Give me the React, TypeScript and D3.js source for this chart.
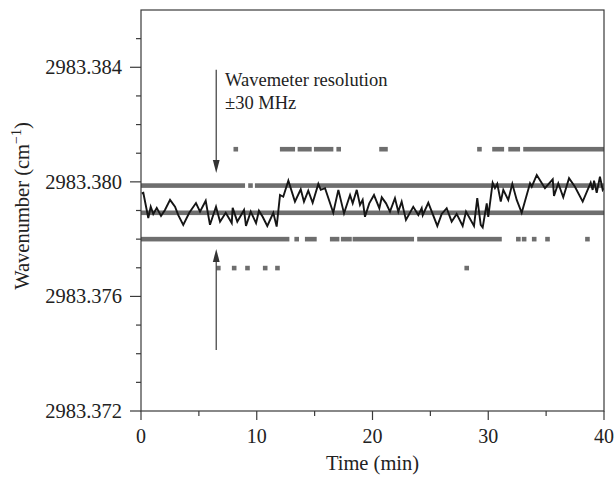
import React from 'react';
import * as d3 from 'd3';

// ---- data ----
const lineTime = [0.06,0.20,0.63,0.84,1.06,1.36,1.73,2.07,2.51,2.94,3.22,3.65,4.17,4.75,5.10,5.59,5.96,6.48,6.83,7.32,7.84,7.92,8.32,8.90,9.07,9.48,9.94,10.19,10.51,10.91,11.43,11.72,12.01,12.29,12.73,13.30,13.80,14.08,14.45,14.83,15.32,15.53,15.90,16.61,17.05,17.54,18.06,18.29,18.64,18.92,19.15,19.35,19.72,20.13,20.36,20.59,20.80,21.17,21.51,21.94,22.23,22.52,22.89,23.52,23.96,24.25,24.34,24.82,25.60,25.98,26.41,26.84,27.27,27.79,28.08,28.77,29.05,29.35,29.52,29.87,30.00,30.38,30.58,30.78,31.08,31.30,31.73,32.08,32.46,32.89,33.61,33.76,34.19,34.90,35.57,35.68,36.05,36.48,36.98,37.49,38.16,38.85,39.02,39.14,39.37,39.65,39.89,40.0];
const lineValue = [2983.37960,2983.37962,2983.37874,2983.37913,2983.37888,2983.37909,2983.37881,2983.37902,2983.37937,2983.37913,2983.37884,2983.37850,2983.37892,2983.37926,2983.37896,2983.37934,2983.37850,2983.37913,2983.37861,2983.37892,2983.37856,2983.37909,2983.37861,2983.37902,2983.37846,2983.37896,2983.37856,2983.37899,2983.37878,2983.37846,2983.37892,2983.37844,2983.37954,2983.37948,2983.38004,2983.37931,2983.37974,2983.37931,2983.37969,2983.37927,2983.37993,2983.37972,2983.37978,2983.37892,2983.37972,2983.37890,2983.37954,2983.37925,2983.37972,2983.37919,2983.37937,2983.37878,2983.37925,2983.37954,2983.37931,2983.37908,2983.37946,2983.37925,2983.37896,2983.37943,2983.37896,2983.37931,2983.37867,2983.37913,2983.37884,2983.37908,2983.37884,2983.37927,2983.37846,2983.37888,2983.37908,2983.37861,2983.37888,2983.37846,2983.37896,2983.37846,2983.37943,2983.37850,2983.37841,2983.37925,2983.37878,2983.37997,2983.37978,2983.37993,2983.37931,2983.37972,2983.37937,2983.37993,2983.37937,2983.37892,2983.37995,2983.37983,2983.38024,2983.37978,2983.38009,2983.37951,2983.37995,2983.37946,2983.38013,2983.37983,2983.37931,2983.37997,2983.37972,2983.38004,2983.37962,2983.38018,2983.37972,2983.37978];

// quantized wavemeter readings: level value and runs [start, end] in minutes
const levelValues = [2983.38114, 2983.37987, 2983.37892, 2983.37800, 2983.37699];
const topRuns = [[8.19,8.19],[12.20,13.11],[13.73,14.55],[15.14,16.42],[17.08,17.08],[20.78,21.12],[29.24,29.24],[30.54,31.17],[31.93,32.55],[33.22,40]];
const upperRuns = [[0,8.79],[9.46,9.46],[10.04,40]];
const middleRuns = [[0,40]];
const lowerRuns = [[0,12.62],[13.45,13.45],[14.36,14.98],[16.52,16.94],[17.47,18.01],[18.48,23.39],[24.06,30.97],[32.6,32.6],[33.1,33.1],[33.97,33.97],[35.12,35.12],[38.57,38.57]];
const bottomRuns = [[6.68,6.68],[8.05,8.05],[9.2,9.2],[10.73,10.73],[11.79,11.79],[28.14,28.14]];
const levelRuns = [topRuns, upperRuns, middleRuns, lowerRuns, bottomRuns];

const xMajor = [0, 10, 20, 30, 40];
const xMinor = [5, 15, 25, 35];
const yMajor = [2983.372, 2983.376, 2983.380, 2983.384];
const yMinor = [2983.373, 2983.374, 2983.375, 2983.377, 2983.378, 2983.379, 2983.381, 2983.382, 2983.383, 2983.385];

const annotationLine1 = 'Wavemeter resolution';
const annotationLine2 = '\u00b130 MHz';
const xTitle = 'Time (min)';

export default function App() {
  const W = 616, H = 477;
  const L = 141, R = 604, T = 10, B = 411;
  const x = d3.scaleLinear().domain([0, 40]).range([L, R]);
  const y = d3.scaleLinear().domain([2983.372, 2983.386]).range([B, T]);
  const font = '"Liberation Serif", "Times New Roman", serif';
  const axisColor = '#3a3a3a';
  const textColor = '#222';
  const sq = 4.6;
  const linePath = d3.line<number>().x((d, i) => x(lineTime[i])).y((d) => y(d))(lineValue) || '';
  const fmt = d3.format('.3f');

  const arrowX = x(6.5);
  const upStart = y(2983.38391), upTip = y(2983.38031);
  const loStart = y(2983.37413), loTip = y(2983.37766);
  const headL = 13, headW = 3.4;

  return (
    <svg width={W} height={H} style={{ position: 'absolute', left: 0, top: 0, background: '#fff' }}>
      <defs>
        <clipPath id="plot"><rect x={L} y={T} width={R - L} height={B - T} /></clipPath>
      </defs>
      <g clipPath="url(#plot)">
        {levelRuns.map((runs, li) =>
          runs.map((r, ri) => (
            <rect key={`${li}-${ri}`} x={x(r[0]) - sq / 2} width={x(r[1]) - x(r[0]) + sq}
              y={y(levelValues[li]) - sq / 2} height={sq} fill="#6e6e6e" />
          ))
        )}
        <path d={linePath} fill="none" stroke="#151515" strokeWidth={1.9} strokeLinejoin="miter" />
      </g>
      {/* arrows */}
      <line x1={arrowX} x2={arrowX} y1={upStart} y2={upTip - headL} stroke="#4a4a4a" strokeWidth={1.3} />
      <path d={`M${arrowX - headW},${upTip - headL} L${arrowX + headW},${upTip - headL} L${arrowX},${upTip} Z`} fill="#333" />
      <line x1={arrowX} x2={arrowX} y1={loStart} y2={loTip + headL} stroke="#4a4a4a" strokeWidth={1.3} />
      <path d={`M${arrowX - headW},${loTip + headL} L${arrowX + headW},${loTip + headL} L${arrowX},${loTip} Z`} fill="#333" />
      <text x={x(7.26)} y={86} fontFamily={font} fontSize={18.5} fill={textColor}>{annotationLine1}</text>
      <text x={x(7.26)} y={109} fontFamily={font} fontSize={18.5} fill={textColor}>{annotationLine2}</text>
      {/* frame */}
      <rect x={L} y={T} width={R - L} height={B - T} fill="none" stroke={axisColor} strokeWidth={1.2} />
      {/* x ticks */}
      {xMajor.map((t) => (
        <g key={`xm${t}`}>
          <line x1={x(t)} x2={x(t)} y1={B} y2={B + 9} stroke={axisColor} strokeWidth={1.2} />
          <text x={x(t)} y={443} textAnchor="middle" fontFamily={font} fontSize={20} fill={textColor}>{t}</text>
        </g>
      ))}
      {xMinor.map((t) => (
        <line key={`xn${t}`} x1={x(t)} x2={x(t)} y1={B} y2={B + 5} stroke={axisColor} strokeWidth={1.2} />
      ))}
      {/* y ticks */}
      {yMajor.map((v) => (
        <g key={`ym${v}`}>
          <line x1={L - 11} x2={L} y1={y(v)} y2={y(v)} stroke={axisColor} strokeWidth={1.2} />
          <text x={122} y={y(v) + 7} textAnchor="end" fontFamily={font} fontSize={20.5} fill={textColor}>{fmt(v)}</text>
        </g>
      ))}
      {yMinor.map((v) => (
        <line key={`yn${v}`} x1={L - 5} x2={L} y1={y(v)} y2={y(v)} stroke={axisColor} strokeWidth={1.2} />
      ))}
      {/* titles */}
      <text x={(L + R) / 2} y={470} textAnchor="middle" fontFamily={font} fontSize={20.5} fill={textColor}>{xTitle}</text>
      <text transform={`translate(29,206) rotate(-90)`} textAnchor="middle" fontFamily={font} fontSize={20.5} fill={textColor}>
        Wavenumber (cm<tspan dy={-8} fontSize={14}>{'\u22121'}</tspan><tspan dy={8}>)</tspan>
      </text>
    </svg>
  );
}
